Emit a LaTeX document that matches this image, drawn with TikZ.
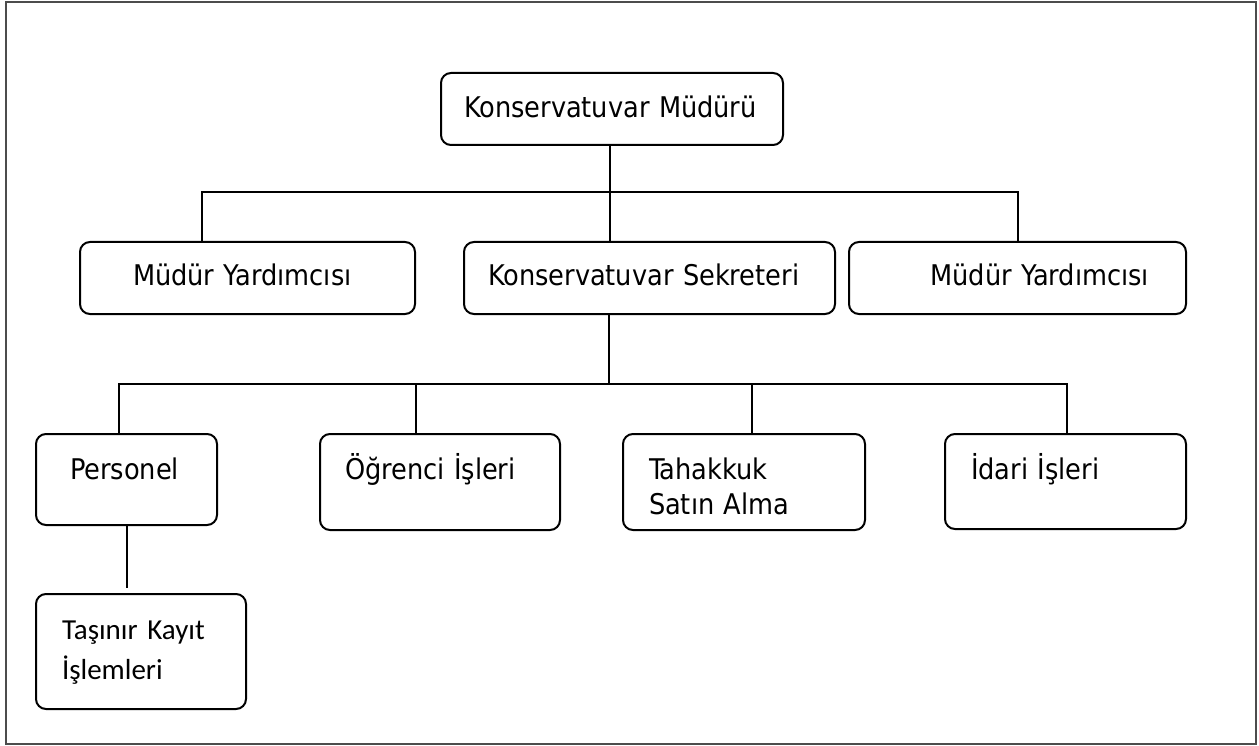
\documentclass[tikz,border=0pt]{standalone}
\usepackage{fontspec}
\setmainfont{DejaVu Sans Condensed}
\newfontfamily\kayitfont{Carlito}
\usepackage{tikz}

\tikzset{
  unit/.style={draw, rounded corners=10pt, line width=2pt, anchor=north west,
    inner ysep=0pt, align=left, font=\fontsize{28.5}{35}\selectfont},
  link/.style={line width=2pt}
}

\begin{document}
\begin{tikzpicture}[x=1pt,y=-1pt]
  \useasboundingbox (0,0) rectangle (1259,746);
  \draw[line width=1.5pt, color=black!70] (6,2) rectangle (1256,744);

  % ust kademe
  \node[unit, inner xsep=23pt, text width=296pt, text height=45pt, text depth=27pt] (mudur) at (440,72) {Konservatuvar Müdürü};

  % ikinci kademe
  \node[unit, inner xsep=53pt, text width=229pt, text height=44pt, text depth=28pt] (yard1) at (79,241) {Müdür Yardımcısı};
  \node[unit, inner xsep=24pt, text width=323pt, text height=44pt, text depth=28pt] (sekreter) at (463,241) {Konservatuvar Sekreteri};
  \node[unit, align=right, inner xsep=37pt, text width=263pt, text height=44pt, text depth=28pt] (yard2) at (848,241) {Müdür Yardımcısı};

  % birimler
  \node[unit, inner xsep=34pt, text width=113pt, text height=45pt, text depth=46pt] (personel) at (35,433) {Personel};
  \node[unit, inner xsep=25pt, text width=190pt, text height=45pt, text depth=51pt] (ogrenci) at (319,433) {Öğrenci İşleri};
  \node[unit, inner xsep=26pt, text width=190pt, text height=45pt, text depth=51pt] (tahakkuk) at (622,433) {Tahakkuk\\Satın Alma};
  \node[unit, inner xsep=26pt, text width=189pt, text height=45pt, text depth=50pt] (idari) at (944,433) {İdari İşleri};
  \node[unit, inner xsep=26pt, text width=158pt, text height=45pt, text depth=70pt,
        font=\kayitfont\fontsize{29}{40}\selectfont] (tasinir) at (35,593) {Taşınır Kayıt\\İşlemleri};

  \coordinate (bus1) at (609,192);
  \coordinate (bus2) at (609,384);

  \draw[link] ([xshift=-2pt]mudur.south) -- ([xshift=-2pt]mudur.south |- sekreter.north);
  \draw[link] ([xshift=-46pt]yard1.north) |- (bus1) -| (yard2.north);
  \draw[link] (bus2 |- sekreter.south) -- (bus2);
  \draw[link] ([xshift=-8pt]personel.north) |- (bus2) -| ([xshift=1pt]idari.north);
  \draw[link] ([xshift=-24pt]ogrenci.north) -- ([xshift=-24pt]ogrenci.north |- bus2);
  \draw[link] ([xshift=8pt]tahakkuk.north) -- ([xshift=8pt]tahakkuk.north |- bus2);
  \draw[link, shorten >=5pt] (personel.south) -- (personel.south |- tasinir.north);
\end{tikzpicture}
\end{document}
